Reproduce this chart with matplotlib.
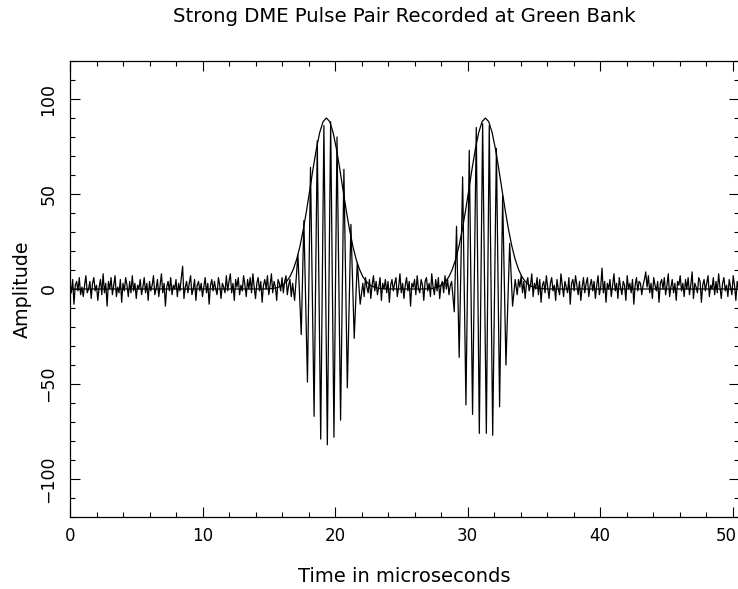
import numpy as np
import matplotlib
matplotlib.use("Agg")
import matplotlib.pyplot as plt
import matplotlib.transforms as mtransforms
from matplotlib.ticker import MultipleLocator

# ---------------- data ----------------
title = "Strong DME Pulse Pair Recorded at Green Bank"
x_label = "Time in microseconds"
y_label = "Amplitude"

step = 0.1  # spacing of the noise samples, microseconds

noise1_start = 0.0
noise1 = [3, -2, 5, -8, 2, 4, -1, 6, -3, 1,
          -4, 2, 7, -2, 0, 4, -5, 3, 6, -1,
          2, -6, 1, 5, -3, 8, -2, 3, -9, 4,
          0, 6, -3, 2, 7, -4, 1, -2, 5, -7,
          3, -1, 6, 2, -4, 4, -2, 7, -1, 3,
          -5, 2, 0, 5, -3, 1, 6, -2, 3, -6,
          4, -1, 2, 7, -3, 0, 5, -4, 2, 8,
          -2, 3, -9, 1, 4, -1, 6, -3, 2, 0,
          5, -4, 3, -1, 6, 12, -5, 1, 4, -2,
          3, 7, -3, 0, 5, -6, 2, 4, -1, 3,
          -4, 1, 6, -2, 3, -8, 2, 5, -1, 4,
          0, -3, 6, 2, -5, 3, 1, -2, 7, -1,
          4, 8, -2, 3, -6, 5, 1, 6, -3, 2,
          -1, 7, 2, -4, 5, 0, 6, -2, 8, 1,
          -5, 3, 6, -1, 4, -7, 2, 5, 0, 7,
          -3, 2, 8, -2, 4, 1, -6, 5, 3, -1,
          6, -2, 4, 7, -3, 2, 5, -4, 3]

pulse1_t = [16.95, 17.2, 17.45, 17.65, 17.92, 18.15, 18.42, 18.66, 18.92, 19.16,
            19.42, 19.67, 19.92, 20.15, 20.42, 20.67, 20.93, 21.2, 21.45, 21.68, 21.9]
pulse1_v = [-6, 18, -24, 36, -49, 64, -67, 78, -79, 86,
            -82, 88, -78, 80, -69, 63, -52, 34, -26, 14, -8]

noise2_start = 22.1
noise2 = [3, -4, 6, 1, -2, 5, -5, 2, 7, -1,
          4, -3, 1, 6, -6, 3, 0, 5, -2, 4,
          -7, 2, 5, -1, 3, 6, -4, 1, 8, -2,
          3, -5, 2, 6, -1, 4, -9, 3, 1, 5,
          -3, 7, 0, -2, 5, 2, -6, 4, 6, -1,
          3, -4, 8, 1, -3, 5, -1, 6, -5, 2,
          4, -2, 7, 0, 5, -3, 2]

pulse2_t = [28.8, 29.0, 29.17, 29.37, 29.63, 29.88, 30.13, 30.38, 30.66, 30.89,
            31.14, 31.42, 31.64, 31.9, 32.18, 32.42, 32.65, 32.9, 33.18, 33.4, 33.6]
pulse2_v = [4, -12, 33, -36, 59, -61, 73, -66, 85, -76,
            87, -76, 86, -77, 74, -62, 49, -40, 24, -9, 5]

noise3_start = 33.75
noise3 = [-3, 5, 1, 7, -2, 4, -5, 3, 6, -1,
          2, 8, -4, 3, 0, 6, -3, 5, -7, 2,
          4, -2, 7, 1, -5, 3, 6, -1, 2, -6,
          5, 0, -3, 8, 2, -4, 4, 1, -2, 6,
          -8, 3, 5, -1, 7, 2, -3, 4, -6, 1,
          6, -2, 3, 6, -4, 2, 5, -1, 4, -5,
          2, 7, -3, 1, 11, -2, 4, -7, 3, 0,
          5, -4, 2, 8, -1, 3, -5, 6, 1, -3,
          4, 2, -6, 7, 0, 3, -2, 5, -8, 2,
          6, -1, 4, 3, -3, 2, 5, 9, 1, 7,
          -2, 3, -5, 6, 2, -1, 4, -7, 3, 5,
          0, 6, -3, 2, 8, -4, 1, 5, -2, 3,
          -6, 4, 2, 7, -1, 3, -4, 5, 0, 6,
          -3, 2, 9, -5, 3, 1, -2, 6, 4, -7,
          2, 5, -1, 3, 7, -4, 2, 0, 6, -3,
          4, -2, 8, 1, -5, 3, 6, -1, 2, -4,
          5, 1, -3, 7, 2, -6, 4, 0, 3, 6,
          -2, 4, 1, 5]

# envelope (offset from pulse centre, amplitude)
env_offset = [-5.0, -4.5, -4.0, -3.75, -3.5, -3.25, -3.0, -2.75, -2.5, -2.25, -2.0,
              -1.75, -1.5, -1.25, -1.0, -0.75, -0.5, -0.25, 0.0,
              0.25, 0.5, 0.75, 1.0, 1.25, 1.5, 1.75, 2.0, 2.25, 2.5, 2.75,
              3.0, 3.25, 3.5, 3.75, 4.0, 4.5, 5.0]
env_value = [0.0, 0.05, 0.3, 0.7, 1.3, 2.3, 4.0, 6.5, 10.3, 15.5, 22.4,
             31.1, 41.2, 52.3, 63.6, 74.0, 82.5, 88.1, 90.0,
             88.1, 82.5, 74.0, 63.6, 52.3, 41.2, 31.1, 22.4, 15.5, 10.3, 6.5,
             4.0, 2.3, 1.3, 0.7, 0.3, 0.05, 0.0]
pulse_centres = [19.35, 31.35]

x_range = [0.0, 50.45]
y_range = [-120, 120]

# ---------------- build series ----------------
def seg(start, vals):
    return start + step * np.arange(len(vals)), np.asarray(vals, float)

t1, v1 = seg(noise1_start, noise1)
t2, v2 = seg(noise2_start, noise2)
t3, v3 = seg(noise3_start, noise3)
trace_t = np.concatenate([t1, pulse1_t, t2, pulse2_t, t3])
trace_v = np.concatenate([v1, pulse1_v, v2, pulse2_v, v3])

env_t = [0.0]
env_v = [0.0]
for c in pulse_centres:
    env_t += [c + d for d in env_offset]
    env_v += env_value
env_t.append(51.2)
env_v.append(0.0)

# ---------------- figure ----------------
W, H = 738, 589
fig = plt.figure(figsize=(W / 100, H / 100), dpi=100)
fig.patch.set_facecolor("white")
ax = fig.add_axes([70 / W, 72 / H, 668.5 / W, 456 / H])

ax.plot(trace_t, trace_v, color="black", lw=0.9)
ax.plot(env_t, env_v, color="black", lw=0.9)

ax.set_xlim(*x_range)
ax.set_ylim(*y_range)

ax.xaxis.set_major_locator(MultipleLocator(10))
ax.xaxis.set_minor_locator(MultipleLocator(2))
ax.yaxis.set_major_locator(MultipleLocator(50))
ax.yaxis.set_minor_locator(MultipleLocator(10))
ax.tick_params(which="both", direction="in", top=True, right=True,
               width=0.8, colors="black")
ax.tick_params(which="major", length=7)
ax.tick_params(which="minor", length=3.6)
ax.tick_params(axis="x", which="major", pad=7, labelsize=12)
ax.tick_params(axis="y", which="major", pad=9, labelsize=12.5)
for lab in ax.get_yticklabels():
    lab.set_rotation(90)
    lab.set_va("center")
for sp in ax.spines.values():
    sp.set_linewidth(0.9)

ax.set_xlabel(x_label, fontsize=14)
ax.xaxis.set_label_coords(0.5, (517 - 577) / 456)
ax.xaxis.label.set_va("center")
ax.set_ylabel(y_label, fontsize=13.7)
ax.yaxis.set_label_coords((22 - 70) / 668.5, 0.5)
ax.yaxis.label.set_va("center")

ax.set_title(title, fontsize=14.2, y=(517 - 16) / 456, pad=0, va="center")

# keep the last x tick label inside the picture edge, as in the reference
fig.canvas.draw()
shift = mtransforms.ScaledTranslation(-4.5 / 72, 0, fig.dpi_scale_trans)
for tick in ax.xaxis.get_major_ticks():
    if tick.label1.get_text() == "50":
        tick.label1.set_transform(tick.label1.get_transform() + shift)

fig.savefig("out.png", dpi=100)
